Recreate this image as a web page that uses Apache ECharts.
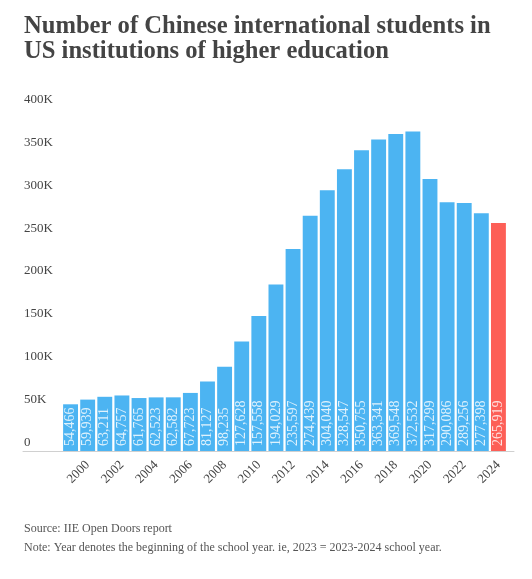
<!DOCTYPE html>
<html>
<head>
<meta charset="utf-8">
<script src="https://cdn.jsdelivr.net/npm/echarts@6/dist/echarts.min.js"></script>
<style>
  html, body { margin: 0; padding: 0; background: #fff; }
  #chart { width: 532px; height: 579px; }
</style>
</head>
<body>
<div id="chart"></div>
<script>
var years = ['1999', '2000', '2001', '2002', '2003', '2004', '2005', '2006', '2007', '2008',
    '2009', '2010', '2011', '2012', '2013', '2014', '2015', '2016', '2017', '2018',
    '2019', '2020', '2021', '2022', '2023', '2024'];
var students = [54466, 59939, 63211, 64757, 61765, 62523, 62582, 67723, 81127, 98235,
    127628, 157558, 194029, 235597, 274439, 304040, 328547, 350755, 363341, 369548,
    372532, 317299, 290086, 289256, 277398, 265919];
var highlightYear = '2024';

var serif = '"Liberation Serif", "DejaVu Serif", serif';
var blue = '#4cb4f2';
var red = '#fd5f57';

var chart = echarts.init(document.getElementById('chart'));
var option = {
    animation: false,
    title: [{
        text: 'Number of Chinese international students in\nUS institutions of higher education',
        left: 24,
        top: 14,
        padding: 0,
        textStyle: {fontFamily: serif, fontSize: 24.6, fontWeight: 'bold', color: '#444', lineHeight: 25}
    }, {
        text: 'Source: IIE Open Doors report',
        left: 24,
        top: 523,
        padding: 0,
        textStyle: {fontFamily: serif, fontSize: 12, fontWeight: 'normal', color: '#555'}
    }, {
        text: 'Note: Year denotes the beginning of the school year. ie, 2023 = 2023-2024 school year.',
        left: 24,
        top: 542,
        padding: 0,
        textStyle: {fontFamily: serif, fontSize: 12, fontWeight: 'normal', color: '#555'}
    }],
    grid: [
        {left: 62, right: 25, top: 108, bottom: 128},
        {left: 23, right: 18, top: 108, bottom: 128}
    ],
    xAxis: [{
        type: 'category',
        gridIndex: 0,
        data: years,
        axisLine: {show: false},
        axisTick: {show: false},
        axisLabel: {
            rotate: 45,
            margin: 12,
            interval: function (i) { return i % 2 === 1; },
            fontFamily: serif, fontSize: 13, color: '#444'
        }
    }, {
        type: 'value',
        gridIndex: 1,
        axisLine: {show: true, onZero: false, lineStyle: {color: '#d0d0d0', width: 1}},
        axisTick: {show: false},
        axisLabel: {show: false},
        splitLine: {show: false}
    }],
    yAxis: [{
        type: 'value',
        gridIndex: 0,
        min: 0,
        max: 400000,
        interval: 50000,
        axisLine: {show: false},
        axisTick: {show: false},
        splitLine: {show: false},
        axisLabel: {
            align: 'left',
            verticalAlign: 'bottom',
            margin: 38,
            padding: [0, 0, 2, 0],
            fontFamily: serif, fontSize: 13, color: '#444',
            formatter: function (v) { return v === 0 ? '0' : (v / 1000) + 'K'; }
        }
    }, {
        type: 'value',
        gridIndex: 1,
        show: false
    }],
    series: [{
        type: 'bar',
        xAxisIndex: 0,
        yAxisIndex: 0,
        barCategoryGap: '13%',
        data: students.map(function (v, i) {
            return years[i] === highlightYear ? {value: v, itemStyle: {color: red}} : v;
        }),
        itemStyle: {color: blue},
        label: {
            show: true,
            position: 'insideBottom',
            rotate: 90,
            align: 'left',
            verticalAlign: 'middle',
            distance: 5,
            fontFamily: serif,
            fontSize: 14,
            color: 'rgba(255,255,255,0.82)',
            formatter: function (p) { return p.value.toLocaleString('en-US'); }
        }
    }]
};
chart.setOption(option);
</script>
</body>
</html>
